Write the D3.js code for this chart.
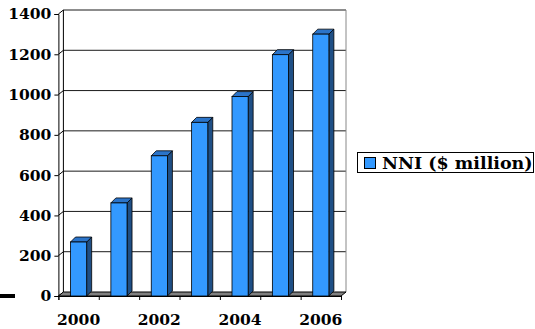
<!DOCTYPE html>
<html>
<head>
<meta charset="utf-8">
<script src="https://cdn.jsdelivr.net/npm/d3@7"></script>
<style>
  html, body { margin: 0; padding: 0; background: #fff; }
  svg { display: block; }
</style>
</head>
<body>
<svg id="chart" width="535" height="329"></svg>
<script>
// Net national income by year, $ million
const years = ["2000", "2001", "2002", "2003", "2004", "2005", "2006"];
const nni = [268, 462, 696, 862, 990, 1198, 1300];
const yTicks = [0, 200, 400, 600, 800, 1000, 1200, 1400];
const xLabels = ["2000", "2002", "2004", "2006"];
const seriesName = "NNI ($ million)";

const serif = "'DejaVu Serif', serif";

const svg = d3.select("#chart");

// front plane of the plot and the depth offset of the 3-D box
const plotLeft = 58.4, plotRight = 341, plotBottom = 296, plotTop = 14;
const wallDx = 5, wallDy = -4;
const barDx = 5, barDy = -5;

const x = d3.scaleBand().domain(years).range([plotLeft, plotRight])
  .paddingInner(0.6).paddingOuter(0.3);
const y = d3.scaleLinear().domain([0, 1400]).range([plotBottom, plotTop]);
const slot = d3.scaleLinear().domain([0, years.length]).range([plotLeft, plotRight]);

const colFront = "#3399ff", colSide = "#1f4f85", colTop = "#2b74c9";
const pts = arr => arr.map(p => p.join(",")).join(" ");
const styleText = (sel, size) => sel
  .style("font-family", serif).style("font-weight", "bold")
  .style("font-size", size + "px").attr("fill", "#000");

// back wall
const wall = svg.append("g");
wall.append("rect")
  .attr("x", plotLeft + wallDx).attr("y", plotTop + wallDy)
  .attr("width", plotRight - plotLeft).attr("height", plotBottom - plotTop)
  .attr("fill", "#fff");
wall.selectAll("line.grid").data(yTicks.filter(v => v > 0)).join("line")
  .attr("class", "grid")
  .attr("x1", plotLeft + wallDx).attr("x2", plotRight + wallDx)
  .attr("y1", d => y(d) + wallDy).attr("y2", d => y(d) + wallDy)
  .attr("stroke", "#1a1a1a").attr("stroke-width", 1);
wall.append("line")
  .attr("x1", plotRight + wallDx).attr("x2", plotRight + wallDx)
  .attr("y1", plotTop + wallDy).attr("y2", plotBottom + wallDy)
  .attr("stroke", "#888");
wall.append("line")
  .attr("x1", plotLeft + wallDx).attr("x2", plotLeft + wallDx)
  .attr("y1", plotTop + wallDy).attr("y2", plotBottom + wallDy)
  .attr("stroke", "#000");

// side wall diagonals joining the axis ticks to the back grid
wall.selectAll("line.side").data(yTicks).join("line")
  .attr("class", "side")
  .attr("x1", plotLeft).attr("x2", plotLeft + wallDx)
  .attr("y1", d => y(d)).attr("y2", d => y(d) + wallDy)
  .attr("stroke", "#000");

// floor
svg.append("polygon")
  .attr("points", pts([
    [plotLeft, plotBottom], [plotRight, plotBottom],
    [plotRight + wallDx, plotBottom + wallDy], [plotLeft + wallDx, plotBottom + wallDy]
  ]))
  .attr("fill", "#808080").attr("stroke", "#000").attr("stroke-width", 1);

// 3-D columns
const bars = svg.append("g").selectAll("g")
  .data(years.map((yr, i) => ({ yr, v: nni[i] }))).join("g");
bars.append("polygon")
  .attr("points", d => {
    const x1 = x(d.yr) + x.bandwidth(), y0 = y(0), y1 = y(d.v);
    return pts([[x1, y1], [x1 + barDx, y1 + barDy], [x1 + barDx, y0 + barDy], [x1, y0]]);
  })
  .attr("fill", colSide).attr("stroke", "#000").attr("stroke-width", 0.8);
bars.append("polygon")
  .attr("points", d => {
    const x0 = x(d.yr), x1 = x0 + x.bandwidth(), y1 = y(d.v);
    return pts([[x0, y1], [x0 + barDx, y1 + barDy], [x1 + barDx, y1 + barDy], [x1, y1]]);
  })
  .attr("fill", colTop).attr("stroke", "#000").attr("stroke-width", 0.8);
bars.append("rect")
  .attr("x", d => x(d.yr)).attr("y", d => y(d.v))
  .attr("width", x.bandwidth()).attr("height", d => y(0) - y(d.v))
  .attr("fill", colFront).attr("stroke", "#000").attr("stroke-width", 0.8);

// value axis
const yAxis = svg.append("g").attr("transform", `translate(${plotLeft},0)`)
  .call(d3.axisLeft(y).tickValues(yTicks).tickSize(4).tickPadding(3).tickFormat(d3.format("d")));
yAxis.attr("font-family", null);
yAxis.select(".domain").attr("stroke", "#000");
yAxis.selectAll("text").call(styleText, 15.5);

// category axis: tick marks between years, labels on every other year
const xTickAxis = svg.append("g").attr("transform", `translate(0,${plotBottom})`)
  .call(d3.axisBottom(slot).ticks(years.length).tickSize(4).tickFormat(""));
xTickAxis.select(".domain").attr("stroke", "#000");
const xLabelAxis = svg.append("g").attr("transform", `translate(0,${plotBottom})`)
  .call(d3.axisBottom(x).tickValues(xLabels).tickSize(0).tickPadding(18));
xLabelAxis.attr("font-family", null);
xLabelAxis.select(".domain").remove();
xLabelAxis.selectAll("text").call(styleText, 15.5);

// short dash at lower left
svg.append("rect").attr("x", 0).attr("y", 294).attr("width", 15).attr("height", 4).attr("fill", "#000");

// legend
const legend = svg.append("g");
legend.append("rect").attr("x", 357.5).attr("y", 152.5).attr("width", 176).attr("height", 20)
  .attr("fill", "#fff").attr("stroke", "#000");
legend.append("rect").attr("x", 364.5).attr("y", 157.5).attr("width", 11).attr("height", 11)
  .attr("fill", colFront).attr("stroke", "#000");
legend.append("text").attr("x", 382).attr("y", 169).text(seriesName).call(styleText, 17.5);
</script>
</body>
</html>
